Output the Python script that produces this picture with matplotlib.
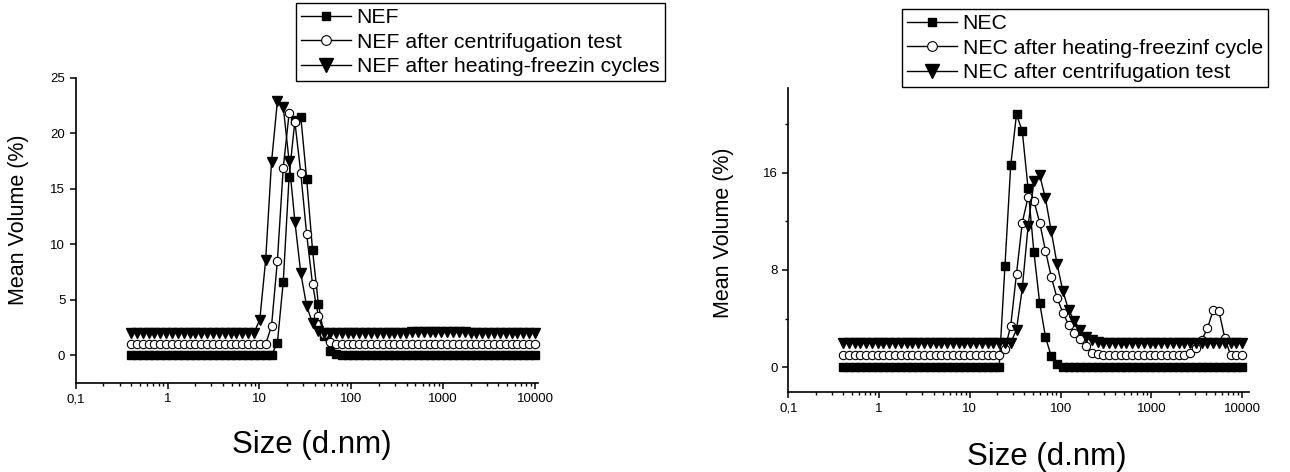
import numpy as np
import matplotlib.pyplot as plt
from matplotlib.ticker import FixedLocator, LogLocator, NullFormatter

plt.rcParams['font.family'] = ['Liberation Sans', 'DejaVu Sans']

# Zetasizer size classes (d.nm), 70 bins
sizes = [0.4, 0.4632, 0.5365, 0.6213, 0.7195, 0.8332, 0.9649, 1.117, 1.294, 1.499,
         1.736, 2.010, 2.328, 2.696, 3.122, 3.615, 4.187, 4.849, 5.615, 6.503,
         7.531, 8.721, 10.10, 11.70, 13.54, 15.69, 18.17, 21.04, 24.36, 28.21,
         32.67, 37.84, 43.82, 50.75, 58.77, 68.06, 78.82, 91.28, 105.7, 122.4,
         141.8, 164.2, 190.1, 220.2, 255.0, 295.3, 342.0, 396.1, 458.7, 531.2,
         615.1, 712.4, 825.0, 955.4, 1106, 1281, 1484, 1718, 1990, 2305,
         2669, 3091, 3580, 4145, 4801, 5560, 6439, 7456, 8635, 10000]

# left panel: NEF (bins 0..69)
nef = [0]*25 + [1.1, 6.6, 16.1, 21.2, 21.5, 15.9, 9.5, 4.6, 1.7, 0.4, 0.1] + [0]*34
nef_centrif = [1.0]*24 + [2.6, 8.5, 16.9, 21.8, 21.0, 16.4, 10.9, 6.4, 3.5, 1.9, 1.2] + [1.0]*35
nef_heat = ([2.0]*22 + [3.2, 8.6, 17.4, 22.9, 22.4, 17.5, 12.0, 7.4, 4.4, 2.9, 2.2]
            + [2.0]*15 + [2.1]*10 + [2.0]*12)

# right panel: NEC
nec = [0]*28 + [8.3, 16.6, 20.8, 19.4, 14.7, 9.5, 5.3, 2.5, 0.9, 0.27] + [0]*32
nec_heat = ([1.0]*28 + [1.5, 3.4, 7.7, 11.9, 14.0, 13.7, 11.9, 9.6, 7.45, 5.7,
                        4.5, 3.5, 2.85, 2.3, 1.75, 1.2, 1.1]
            + [1.0]*15 + [1.15, 1.56, 2.24, 3.2, 4.7, 4.6, 2.4, 1.0, 1.0, 1.0])
nec_centrif = ([2.0]*30 + [3.1, 6.5, 11.6, 15.3, 15.8, 13.9, 11.2, 8.5, 6.3, 4.7,
                           3.8, 3.1, 2.5, 2.2, 2.1] + [2.0]*25)

xticks = [0.1, 1, 10, 100, 1000, 10000]
xticklabels = ['0,1', '1', '10', '100', '1000', '10000']

W, H = 1290, 472
fig = plt.figure(figsize=(W/100, H/100), dpi=100)

def px_axes(l, t, r, b):
    return fig.add_axes([l/W, 1-b/H, (r-l)/W, (b-t)/H])

ax1 = px_axes(75.7, 78, 537.7, 382.7)
ax2 = px_axes(788.3, 88.3, 1249, 392.3)

sq = dict(marker='s', ms=6, mfc='black', mec='black', color='black', lw=1)
ci = dict(marker='o', ms=6, mfc='white', mec='black', mew=0.8, color='black', lw=1)
tr = dict(marker='v', ms=7, mfc='black', mec='black', color='black', lw=1)

ax1.plot(sizes, nef, label='NEF', clip_on=False, **sq)
ax1.plot(sizes, nef_centrif, label='NEF after centrifugation test', clip_on=False, **ci)
ax1.plot(sizes, nef_heat, label='NEF after heating-freezin cycles', clip_on=False, **tr)
ax1.set_ylim(-2.5, 25)
ax1.set_xlim(0.1, 10700)
ax1.set_yticks([0, 5, 10, 15, 20, 25])

ax2.plot(sizes, nec, label='NEC', clip_on=False, **sq)
ax2.plot(sizes, nec_heat, label='NEC after heating-freezinf cycle', clip_on=False, **ci)
ax2.plot(sizes, nec_centrif, label='NEC after centrifugation test', clip_on=False, **tr)
ax2.set_ylim(-2.06, 22.94)
ax2.set_xlim(0.1, 11900)
ax2.set_yticks([0, 8, 16])
ax2.set_yticks([4, 12, 20], minor=True)

for ax in (ax1, ax2):
    ax.set_xscale('log')
    ax.xaxis.set_major_locator(FixedLocator(xticks))
    ax.set_xticklabels(xticklabels)
    ax.xaxis.set_minor_locator(LogLocator(base=10, subs=np.arange(2, 10)))
    ax.xaxis.set_minor_formatter(NullFormatter())
    for s in ('top', 'right'):
        ax.spines[s].set_visible(False)
    for s in ('left', 'bottom'):
        ax.spines[s].set_linewidth(1.2)
    ax.tick_params(which='major', direction='out', length=4.5, width=1.1, labelsize=9.5, pad=3)
    ax.tick_params(which='minor', direction='out', length=2.5, width=1.0)
    ax.set_xlabel('Size (d.nm)', fontsize=22.5)
    ax.set_ylabel('Mean Volume (%)', fontsize=15.5)

ax1.xaxis.set_label_coords(312/W, 1-445/H, transform=fig.transFigure)
ax1.yaxis.set_label_coords(19/W, 1-220/H, transform=fig.transFigure)
ax2.xaxis.set_label_coords(1047/W, 1-457/H, transform=fig.transFigure)
ax2.yaxis.set_label_coords(723/W, 1-233/H, transform=fig.transFigure)
for ax in (ax1, ax2):
    ax.xaxis.label.set_va('center')
    ax.yaxis.label.set_va('center')

leg_kw = dict(loc='upper left', bbox_transform=fig.transFigure, borderaxespad=0,
              frameon=True, fancybox=False, edgecolor='black', framealpha=1,
              handletextpad=0.25, borderpad=0.25, labelspacing=0.25,
              fontsize=15.3, handlelength=2.35)
l1 = ax1.legend(bbox_to_anchor=(296/W, 1-3/H), **leg_kw)
l2 = ax2.legend(bbox_to_anchor=(902/W, 1-9/H), **leg_kw)
for l in (l1, l2):
    l.get_frame().set_linewidth(1.0)
    for h, m in zip(l.legend_handles, (6, 7, 9.5)):
        h.set_markersize(m)

fig.savefig('out.png', dpi=100)
